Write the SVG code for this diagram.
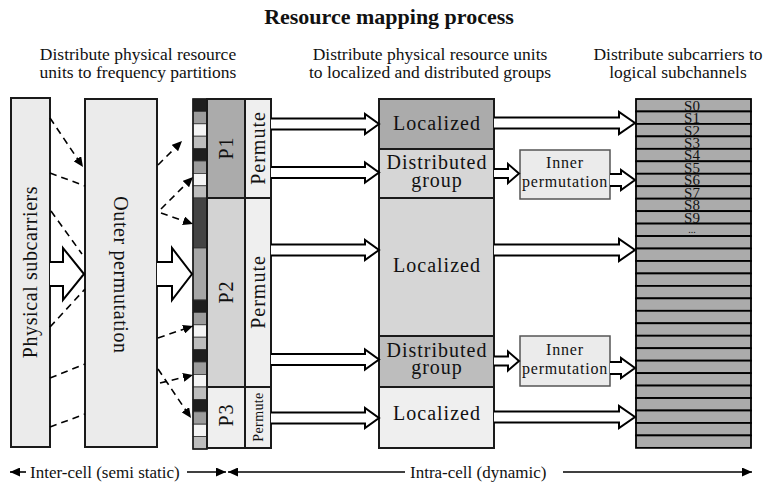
<svg xmlns="http://www.w3.org/2000/svg" width="779" height="483" viewBox="0 0 779 483" font-family="'Liberation Serif','Times New Roman',serif">
<style>
text{font-family:"Liberation Serif","Times New Roman",serif;fill:#111}
.ttl{font-size:22px;font-weight:bold;text-anchor:middle}
.hdr{font-size:17.5px;text-anchor:middle}
.big{font-size:20px;text-anchor:middle;letter-spacing:1px}
.lab{font-size:20px;text-anchor:middle;letter-spacing:0.6px}
.inn{font-size:16px;text-anchor:middle;letter-spacing:0.8px}
.s{font-size:15px;text-anchor:middle}
.bot{font-size:17px}
.box{stroke:#1a1a1a;stroke-width:2}
.cell{stroke:#333;stroke-width:0.8}
.row{fill:#ababab;stroke:#000;stroke-width:1.8}
.ha{fill:#fff;stroke:#000;stroke-width:2;stroke-linejoin:miter}
.dash{fill:none;stroke:#000;stroke-width:1.6;stroke-dasharray:7 5}
.ln{fill:none;stroke:#000;stroke-width:1.6}
</style>
<defs>
<marker id="ah" markerUnits="userSpaceOnUse" markerWidth="11" markerHeight="9" refX="10" refY="4.5" orient="auto"><path d="M0,0 L10,4.5 L0,9 z" fill="#000"/></marker>
<marker id="bh" markerUnits="userSpaceOnUse" markerWidth="11" markerHeight="9" refX="10" refY="4.5" orient="auto-start-reverse"><path d="M0,0 L10,4.5 L0,9 z" fill="#000"/></marker>
</defs>

<text class="ttl" x="389" y="24">Resource mapping process</text>
<text class="hdr" x="138" y="60">Distribute physical resource</text>
<text class="hdr" x="138" y="78">units to frequency partitions</text>
<text class="hdr" x="430" y="60">Distribute physical resource units</text>
<text class="hdr" x="430" y="78">to localized and distributed groups</text>
<text class="hdr" x="678" y="60">Distribute subcarriers to</text>
<text class="hdr" x="678" y="78">logical subchannels</text>

<g id="physical-subcarriers">
<rect class="box" x="11" y="98" width="39" height="349" fill="#ebebeb"/>
<text class="lab" transform="translate(37,272) rotate(-90)" x="0" y="0">Physical subcarriers</text>
</g>

<g id="outer-permutation">
<rect class="box" x="85" y="99" width="72" height="348" fill="#ebebeb"/>
<text class="lab" transform="translate(114,275) rotate(90)" x="0" y="0">Outer permutation</text>
</g>

<g id="partition-strip">
<rect class="cell" x="193" y="99" width="14" height="12.4" fill="#1e1e1e"/>
<rect class="cell" x="193" y="111.4" width="14" height="12.4" fill="#9c9c9c"/>
<rect class="cell" x="193" y="123.8" width="14" height="12.4" fill="#f4f4f4"/>
<rect class="cell" x="193" y="136.2" width="14" height="12.4" fill="#bdbdbd"/>
<rect class="cell" x="193" y="148.6" width="14" height="12.4" fill="#1e1e1e"/>
<rect class="cell" x="193" y="161" width="14" height="12.4" fill="#9c9c9c"/>
<rect class="cell" x="193" y="173.4" width="14" height="12.4" fill="#f4f4f4"/>
<rect class="cell" x="193" y="185.8" width="14" height="12.2" fill="#bdbdbd"/>
<rect class="cell" x="193" y="198" width="14" height="50" fill="#444"/>
<rect class="cell" x="193" y="248" width="14" height="52" fill="#a6a6a6"/>
<rect class="cell" x="193" y="300" width="14" height="12.4" fill="#1e1e1e"/>
<rect class="cell" x="193" y="312.4" width="14" height="12.4" fill="#9c9c9c"/>
<rect class="cell" x="193" y="324.8" width="14" height="12.4" fill="#f4f4f4"/>
<rect class="cell" x="193" y="337.2" width="14" height="12.4" fill="#bdbdbd"/>
<rect class="cell" x="193" y="349.6" width="14" height="12.4" fill="#1e1e1e"/>
<rect class="cell" x="193" y="362" width="14" height="12.4" fill="#9c9c9c"/>
<rect class="cell" x="193" y="374.4" width="14" height="12.6" fill="#f4f4f4"/>
<rect class="cell" x="193" y="387" width="14" height="12.4" fill="#bdbdbd"/>
<rect class="cell" x="193" y="399.4" width="14" height="12.4" fill="#1e1e1e"/>
<rect class="cell" x="193" y="411.8" width="14" height="12.4" fill="#9c9c9c"/>
<rect class="cell" x="193" y="424.2" width="14" height="12.4" fill="#f4f4f4"/>
<rect class="cell" x="193" y="436.6" width="14" height="12.4" fill="#bdbdbd"/>
<rect x="193" y="99" width="14" height="350" fill="none" stroke="#1a1a1a" stroke-width="1.6"/>
</g>

<g id="p1">
<rect class="box" x="207" y="99" width="38" height="99" fill="#ababab"/>
<rect class="box" x="245" y="99" width="26" height="99" fill="#efefef"/>
<text class="big" transform="translate(233,148) rotate(-90)" x="0" y="0">P1</text>
<text class="big" transform="translate(265,148) rotate(-90)" x="0" y="0">Permute</text>
</g>
<g id="p2">
<rect class="box" x="207" y="198" width="38" height="189" fill="#d3d3d3"/>
<rect class="box" x="245" y="198" width="26" height="189" fill="#efefef"/>
<text class="big" transform="translate(233,292) rotate(-90)" x="0" y="0">P2</text>
<text class="big" transform="translate(265,292) rotate(-90)" x="0" y="0">Permute</text>
</g>
<g id="p3">
<rect class="box" x="207" y="387" width="38" height="61" fill="#efefef"/>
<rect class="box" x="245" y="387" width="26" height="61" fill="#efefef"/>
<text class="big" transform="translate(233,415) rotate(-90)" x="0" y="0">P3</text>
<text transform="translate(263,417) rotate(-90)" x="0" y="0" style="font-size:14px;text-anchor:middle;letter-spacing:0.4px">Permute</text>
</g>

<g id="localized-1">
<rect class="box" x="379" y="99" width="115" height="50" fill="#ababab"/>
<text class="big" x="437" y="130">Localized</text>
</g>
<g id="distributed-group-1">
<rect class="box" x="379" y="149" width="115" height="49" fill="#d6d6d6"/>
<text class="big" x="437" y="169">Distributed</text>
<text class="big" x="437" y="187">group</text>
</g>
<g id="localized-2">
<rect class="box" x="379" y="198" width="115" height="138" fill="#d6d6d6"/>
<text class="big" x="437" y="272">Localized</text>
</g>
<g id="distributed-group-2">
<rect class="box" x="379" y="336" width="115" height="51" fill="#bdbdbd"/>
<text class="big" x="437" y="357">Distributed</text>
<text class="big" x="437" y="374">group</text>
</g>
<g id="localized-3">
<rect class="box" x="379" y="387" width="115" height="61" fill="#efefef"/>
<text class="big" x="437" y="420">Localized</text>
</g>

<g id="inner-permutation-1">
<rect x="520" y="150" width="90" height="49" fill="#ebebeb" stroke="#555" stroke-width="1.5"/>
<text class="inn" x="565" y="168">Inner</text>
<text class="inn" x="565" y="187">permutation</text>
</g>
<g id="inner-permutation-2">
<rect x="520" y="336" width="90" height="50" fill="#ebebeb" stroke="#555" stroke-width="1.5"/>
<text class="inn" x="565" y="355">Inner</text>
<text class="inn" x="565" y="374">permutation</text>
</g>

<g id="logical-subchannels">
<rect class="row" x="636" y="99" width="115" height="12.46"/>
<rect class="row" x="636" y="111.46" width="115" height="12.46"/>
<rect class="row" x="636" y="123.92" width="115" height="12.46"/>
<rect class="row" x="636" y="136.38" width="115" height="12.46"/>
<rect class="row" x="636" y="148.84" width="115" height="12.46"/>
<rect class="row" x="636" y="161.3" width="115" height="12.46"/>
<rect class="row" x="636" y="173.76" width="115" height="12.46"/>
<rect class="row" x="636" y="186.22" width="115" height="12.46"/>
<rect class="row" x="636" y="198.68" width="115" height="12.46"/>
<rect class="row" x="636" y="211.14" width="115" height="12.46"/>
<rect class="row" x="636" y="223.6" width="115" height="12.46"/>
<rect class="row" x="636" y="236.06" width="115" height="12.46"/>
<rect class="row" x="636" y="248.52" width="115" height="12.46"/>
<rect class="row" x="636" y="260.98" width="115" height="12.46"/>
<rect class="row" x="636" y="273.44" width="115" height="12.46"/>
<rect class="row" x="636" y="285.9" width="115" height="12.46"/>
<rect class="row" x="636" y="298.36" width="115" height="12.46"/>
<rect class="row" x="636" y="310.82" width="115" height="12.46"/>
<rect class="row" x="636" y="323.28" width="115" height="12.46"/>
<rect class="row" x="636" y="335.74" width="115" height="12.46"/>
<rect class="row" x="636" y="348.2" width="115" height="12.46"/>
<rect class="row" x="636" y="360.66" width="115" height="12.46"/>
<rect class="row" x="636" y="373.12" width="115" height="12.46"/>
<rect class="row" x="636" y="385.58" width="115" height="12.46"/>
<rect class="row" x="636" y="398.04" width="115" height="12.46"/>
<rect class="row" x="636" y="410.5" width="115" height="12.46"/>
<rect class="row" x="636" y="422.96" width="115" height="12.46"/>
<rect class="row" x="636" y="435.42" width="115" height="12.46"/>
<text class="s" x="692" y="110.5">S0</text>
<text class="s" x="692" y="123">S1</text>
<text class="s" x="692" y="135.5">S2</text>
<text class="s" x="692" y="147.9">S3</text>
<text class="s" x="692" y="160.4">S4</text>
<text class="s" x="692" y="172.8">S5</text>
<text class="s" x="692" y="185.3">S6</text>
<text class="s" x="692" y="197.7">S7</text>
<text class="s" x="692" y="210.2">S8</text>
<text class="s" x="692" y="222.7">S9</text>
<text x="692" y="233" style="font-size:10px;text-anchor:middle">...</text>
</g>

<g id="connectors">
<path class="ha" d="M50,262 L63,262 L63,248 L84,274 L63,300 L63,286 L50,286"/>
<path class="ha" d="M157,262 L172,262 L172,248 L192,274 L172,300 L172,286 L157,286"/>
<path class="ha" d="M271,118.5 L365,118.5 L365,114 L379,124 L365,134 L365,129.5 L271,129.5"/>
<path class="ha" d="M271,167 L365,167 L365,162.5 L379,172.5 L365,182.5 L365,178 L271,178"/>
<path class="ha" d="M271,244.5 L365,244.5 L365,240 L379,250 L365,260 L365,255.5 L271,255.5"/>
<path class="ha" d="M271,354 L365,354 L365,349.5 L379,359.5 L365,369.5 L365,365 L271,365"/>
<path class="ha" d="M271,412.5 L365,412.5 L365,408 L379,418 L365,428 L365,423.5 L271,423.5"/>
<path class="ha" d="M494,117.5 L619,117.5 L619,112 L635,123 L619,134 L619,128.5 L494,128.5"/>
<path class="ha" d="M494,244.5 L619,244.5 L619,239 L635,250 L619,261 L619,255.5 L494,255.5"/>
<path class="ha" d="M494,411.5 L619,411.5 L619,406 L635,417 L619,428 L619,422.5 L494,422.5"/>
<path class="ha" d="M494,169 L508,169 L508,164 L519,173.5 L508,183 L508,178 L494,178"/>
<path class="ha" d="M494,356.5 L508,356.5 L508,351.5 L519,361 L508,370.5 L508,365.5 L494,365.5"/>
<path class="ha" d="M610,174 L621,174 L621,170 L635,180 L621,190 L621,186 L610,186"/>
<path class="ha" d="M610,362 L621,362 L621,358 L635,368 L621,378 L621,374 L610,374"/>
<path class="dash" d="M50,118 L83,167" marker-end="url(#ah)"/>
<path class="dash" d="M50,173 L85,186"/>
<path class="dash" d="M51,211 L82,254"/>
<path class="dash" d="M50,327 L85,289"/>
<path class="dash" d="M50,378 L85,364"/>
<path class="dash" d="M50,427 L85,414"/>
<path class="dash" d="M158,165 L182,141" marker-end="url(#ah)"/>
<path class="dash" d="M161,209 L193,177" marker-end="url(#ah)"/>
<path class="dash" d="M161,213 L193,224" marker-end="url(#ah)"/>
<path class="dash" d="M158,338 L193,326" marker-end="url(#ah)"/>
<path class="dash" d="M160,383 L193,375" marker-end="url(#ah)"/>
<path class="dash" d="M158,369 L191,418" marker-end="url(#ah)"/>
<path class="ln" d="M10,472 L26,472" marker-start="url(#bh)"/>
<path class="ln" d="M187,472 L226,472" marker-end="url(#bh)"/>
<path class="ln" d="M228,472 L405,472" marker-start="url(#bh)"/>
<path class="ln" d="M563,472 L752,472" marker-end="url(#bh)"/>
</g>
<text class="bot" x="30" y="478">Inter-cell (semi static)</text>
<text class="bot" x="410" y="478">Intra-cell (dynamic)</text>
</svg>
